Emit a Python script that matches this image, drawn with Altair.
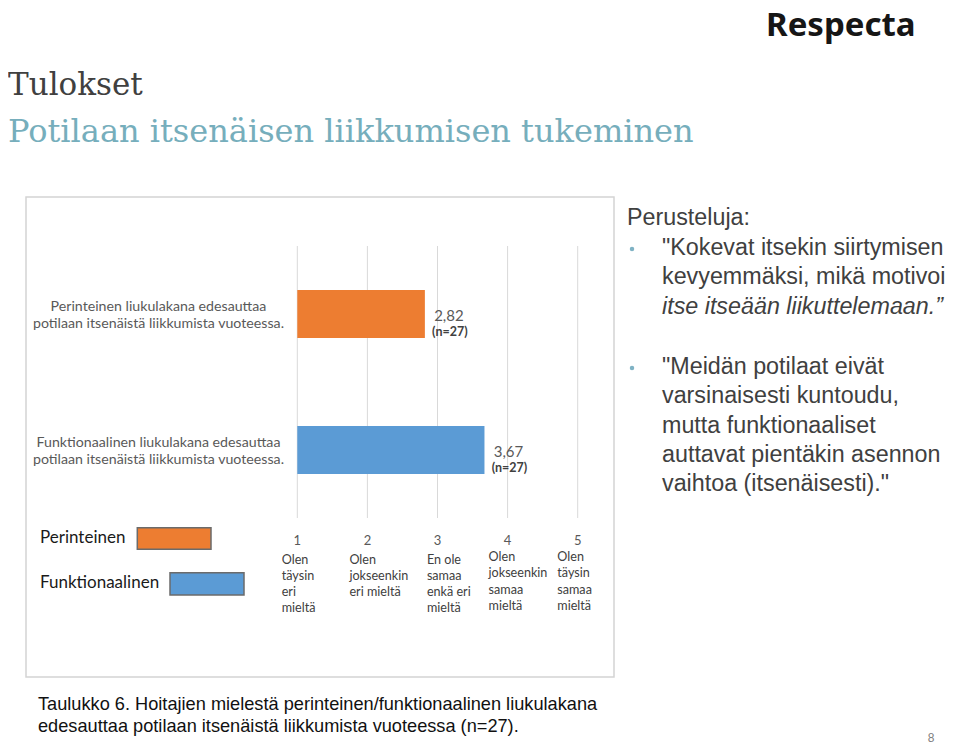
import altair as alt
import pandas as pd

# ---------------- data ----------------
categories = [
    "Perinteinen liukulakana edesauttaa\npotilaan itsenäistä liikkumista vuoteessa.",
    "Funktionaalinen liukulakana edesauttaa\npotilaan itsenäistä liikkumista vuoteessa.",
]
means = [2.82, 3.67]
mean_labels = ["2,82", "3,67"]
n_labels = ["(n=27)", "(n=27)"]
legend_names = ["Perinteinen", "Funktionaalinen"]
scale_ticks = [1, 2, 3, 4, 5]
scale_tick_labels = ["1", "2", "3", "4", "5"]
scale_texts = [
    "Olen\ntäysin\neri\nmieltä",
    "Olen\njokseenkin\neri mieltä",
    "En ole\nsamaa\nenkä eri\nmieltä",
    "Olen\njokseenkin\nsamaa\nmieltä",
    "Olen\ntäysin\nsamaa\nmieltä",
]
title_text = "Tulokset"
subtitle_text = "Potilaan itsenäisen liikkumisen tukeminen"
logo_text = "Respecta"
reason_heading = "Perusteluja:"
reason1_lines = ['"Kokevat itsekin siirtymisen', "kevyemmäksi, mikä motivoi"]
reason1_italic = "itse itseään liikuttelemaan.”"
reason2_lines = [
    '"Meidän potilaat eivät',
    "varsinaisesti kuntoudu,",
    "mutta funktionaaliset",
    "auttavat pientäkin asennon",
    'vaihtoa (itsenäisesti)."',
]
caption_lines = [
    "Taulukko 6. Hoitajien mielestä perinteinen/funktionaalinen liukulakana",
    "edesauttaa potilaan itsenäistä liikkumista vuoteessa (n=27).",
]
page_number = "8"

# ---------------- styles ----------------
bar_colors = ["#ED7D31", "#5B9BD5"]
W, H = 944, 738
LABEL_FONT = "Lato"
TEXT_FONT = "Liberation Sans"

xscale = alt.Scale(domain=[1, 5], range=[289.3, 569.7])
yscale = alt.Scale(domain=categories, range=[238, 510], paddingInner=0, paddingOuter=0)

bars_df = pd.DataFrame({"category": categories, "mean": means,
                        "mean_label": mean_labels, "n_label": n_labels})
ticks_df = pd.DataFrame({"tick": scale_ticks, "tick_label": scale_tick_labels,
                         "desc": scale_texts})


def text_layer(txt, x, y, **kw):
    return alt.Chart(pd.DataFrame({"t": [txt]})).mark_text(**kw).encode(
        x=alt.value(x), y=alt.value(y), text="t:N")


layers = []

# chart frame
layers.append(
    alt.Chart(pd.DataFrame({"a": [0]})).mark_rect(fill="white", stroke="#d4d4d4", strokeWidth=1.5)
    .encode(x=alt.value(18), x2=alt.value(606), y=alt.value(189), y2=alt.value(669))
)

# gridlines
layers.append(
    alt.Chart(ticks_df).mark_rule(color="#d9d9d9", strokeWidth=1).encode(
        x=alt.X("tick:Q", scale=xscale, axis=None), y=alt.value(238), y2=alt.value(510))
)

# bars
layers.append(
    alt.Chart(bars_df).mark_bar(size=48).encode(
        x=alt.X("mean:Q", scale=xscale, axis=None),
        x2=alt.datum(1),
        y=alt.Y("category:N", scale=yscale, axis=None, sort=categories),
        color=alt.Color("category:N", scale=alt.Scale(domain=categories, range=bar_colors), legend=None),
    )
)

# value labels
layers.append(
    alt.Chart(bars_df).mark_text(align="center", dx=24, dy=1.5, fontSize=15, color="#595959",
                                 font=LABEL_FONT).encode(
        x=alt.X("mean:Q", scale=xscale, axis=None),
        y=alt.Y("category:N", scale=yscale, axis=None, sort=categories),
        text="mean_label:N")
)
layers.append(
    alt.Chart(bars_df).mark_text(align="center", dx=25, dy=18, fontSize=12.5, fontWeight="bold",
                                 color="#404040", font=LABEL_FONT).encode(
        x=alt.X("mean:Q", scale=xscale, axis=None),
        y=alt.Y("category:N", scale=yscale, axis=None, sort=categories),
        text="n_label:N")
)

# category labels
layers.append(
    alt.Chart(bars_df).mark_text(align="center", baseline="middle", lineBreak="\n", lineHeight=17,
                                 dy=-7.5, fontSize=14.2, color="#595959", font=LABEL_FONT).encode(
        x=alt.value(150.5),
        y=alt.Y("category:N", scale=yscale, axis=None, sort=categories),
        text="category:N")
)

# scale tick numbers
layers.append(
    alt.Chart(ticks_df).mark_text(align="center", fontSize=13, color="#595959", font=LABEL_FONT).encode(
        x=alt.X("tick:Q", scale=xscale, axis=None), y=alt.value(533), text="tick_label:N")
)

# scale descriptions
SUB_DX = [-15.6, -18, -10.6, -19, -20.4]
SUB_Y = [545.5, 545.5, 545.5, 543, 543]
for i, t in enumerate(scale_ticks):
    layers.append(
        alt.Chart(ticks_df).transform_filter(alt.datum.tick == t).mark_text(
            align="left", baseline="top", dx=SUB_DX[i], lineBreak="\n", lineHeight=16.3,
            fontSize=12.6, color="#404040", font=LABEL_FONT).encode(
            x=alt.X("tick:Q", scale=xscale, axis=None), y=alt.value(SUB_Y[i]), text="desc:N")
    )

# legend
LEG_TEXT_Y = [529.7, 574.7]
LEG_RECT = [(129.3, 203, 519.7, 541.3), (162, 236, 564.7, 587)]
leg_df = pd.DataFrame({"name": legend_names})
for i, name in enumerate(legend_names):
    layers.append(
        alt.Chart(leg_df).transform_filter(alt.datum.name == name).mark_text(
            align="left", baseline="middle", fontSize=17, color="#1a1a1a", font=LABEL_FONT).encode(
            x=alt.value(32), y=alt.value(LEG_TEXT_Y[i]), text="name:N")
    )
    x1, x2, y1, y2 = LEG_RECT[i]
    layers.append(
        alt.Chart(leg_df).transform_filter(alt.datum.name == name).mark_rect(
            fill=bar_colors[i], stroke="#6b6b6b", strokeWidth=1.5).encode(
            x=alt.value(x1), x2=alt.value(x2), y=alt.value(y1), y2=alt.value(y2))
    )

# slide title & subtitle
layers.append(text_layer(title_text, 0, 87, align="left", baseline="alphabetic",
                         font="DejaVu Serif", fontSize=31, color="#404040"))
layers.append(text_layer(subtitle_text, 0, 134, align="left", baseline="alphabetic",
                         font="DejaVu Serif", fontSize=32, color="#76AEBC"))

# logo
layers.append(text_layer(logo_text, 758, 28, align="left", baseline="alphabetic",
                         font="Noto Sans", fontWeight=700, fontSize=33, color="#161616"))

# right-hand text
RT = dict(align="left", baseline="middle", font=TEXT_FONT, fontSize=23.3, color="#404040")
layers.append(text_layer(reason_heading, 619, 210, **RT))
line_h = 29.3
for j, ln in enumerate(reason1_lines):
    layers.append(text_layer(ln, 654, 240 + j * line_h, **RT))
layers.append(text_layer(reason1_italic, 654, 240 + 2 * line_h, fontStyle="italic", **RT))
for j, ln in enumerate(reason2_lines):
    layers.append(text_layer(ln, 654, 359 + j * line_h, **RT))
layers.append(
    alt.Chart(pd.DataFrame({"b": [0]})).mark_circle(size=20, color="#7FB2C4", opacity=1).encode(
        x=alt.value(624), y=alt.value(241))
)
layers.append(
    alt.Chart(pd.DataFrame({"b": [0]})).mark_circle(size=20, color="#7FB2C4", opacity=1).encode(
        x=alt.value(624), y=alt.value(360))
)

# caption
CT = dict(align="left", baseline="middle", font=TEXT_FONT, fontSize=18.2, color="#111111")
for j, ln in enumerate(caption_lines):
    layers.append(text_layer(ln, 30, 697 + j * 22, **CT))

# page number
layers.append(text_layer(page_number, 923, 730, align="center", baseline="middle",
                         font=TEXT_FONT, fontSize=12, color="#7f7f7f"))

chart = alt.layer(*layers).properties(
    width=W, height=H, padding=0,
    autosize=alt.AutoSizeParams(type="none"),
).configure_view(stroke=None)

chart.save("out.html", embed_options={"renderer": "svg", "actions": False})
